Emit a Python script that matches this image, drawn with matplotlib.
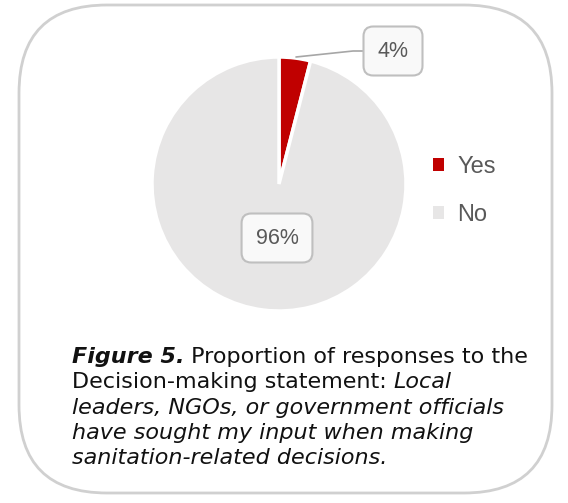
import matplotlib
matplotlib.use("Agg")
import matplotlib.pyplot as plt
from matplotlib.patches import FancyBboxPatch

categories = ["Yes", "No"]
values = [4, 96]
colors = ["#C00000", "#E7E6E6"]
pct_labels = ["4%", "96%"]

W, H = 568, 503
fig = plt.figure(figsize=(W / 100, H / 100), dpi=100)
plt.rcParams["font.family"] = ["Liberation Sans", "DejaVu Sans"]
CAPFONT = ["DejaVu Sans"]

ax = fig.add_axes([0, 0, 1, 1])

# rounded outer card
card = FancyBboxPatch((19, 10), 533, 488, boxstyle="round,pad=0,rounding_size=88",
                      linewidth=2, edgecolor="#D0D0D0", facecolor="white",
                      transform=ax.transData, zorder=0)
ax.add_patch(card)

cx, cy, r = 279, H - 184, 127
wedges, _ = ax.pie(values, colors=colors, startangle=90, counterclock=False,
                   center=(cx, cy), radius=r, frame=True,
                   wedgeprops=dict(edgecolor="white", linewidth=2.5))
ax.set_xlim(0, W)
ax.set_ylim(0, H)
ax.set_aspect("equal")
ax.axis("off")

box = dict(boxstyle="round,pad=0.65,rounding_size=0.45", facecolor="#F9F9F9",
           edgecolor="#BFBFBF", linewidth=1.5)
# 4% label with leader line
ax.annotate(pct_labels[0], xy=(296, H - 57), xytext=(393, H - 51),
            fontsize=15.5, color="#595959", ha="center", va="center", bbox=box,
            arrowprops=dict(arrowstyle="-", color="#A6A6A6", lw=1.2,
                            shrinkA=0, shrinkB=0,
                            connectionstyle="angle,angleA=0,angleB=6,rad=0"),
            zorder=5)
ax.text(277, H - 238, pct_labels[1], fontsize=15.5, color="#595959",
        ha="center", va="center", bbox=box, zorder=5)

leg = ax.legend(wedges, categories, loc="center left",
                bbox_to_anchor=(424 / W, 1 - 191 / H), frameon=False,
                fontsize=17, handlelength=0.45, handleheight=0.45,
                handletextpad=0.55, labelspacing=1.08, borderaxespad=0)
for t in leg.get_texts():
    t.set_color("#595959")
for h in leg.legend_handles:
    h.set_edgecolor("none")

# caption with mixed styles
fig.canvas.draw()
renderer = fig.canvas.get_renderer()
lines = [
    [("Figure 5.", "bold", "italic"), (" Proportion of responses to the", "normal", "normal")],
    [("Decision-making statement: ", "normal", "normal"), ("Local", "normal", "italic")],
    [("leaders, NGOs, or government officials", "normal", "italic")],
    [("have sought my input when making", "normal", "italic")],
    [("sanitation-related decisions.", "normal", "italic")],
]
x0 = 72
baseline0 = H - 363
spacing = 25.3
fs = 16
for i, parts in enumerate(lines):
    x = x0
    y = baseline0 - i * spacing
    for txt, wt, st in parts:
        t = ax.text(x, y, txt, fontsize=fs, fontweight=wt, fontstyle=st,
                    family=CAPFONT, color="#111111", ha="left", va="baseline")
        bb = t.get_window_extent(renderer)
        x = x + bb.width

fig.savefig("out.png", dpi=100)
